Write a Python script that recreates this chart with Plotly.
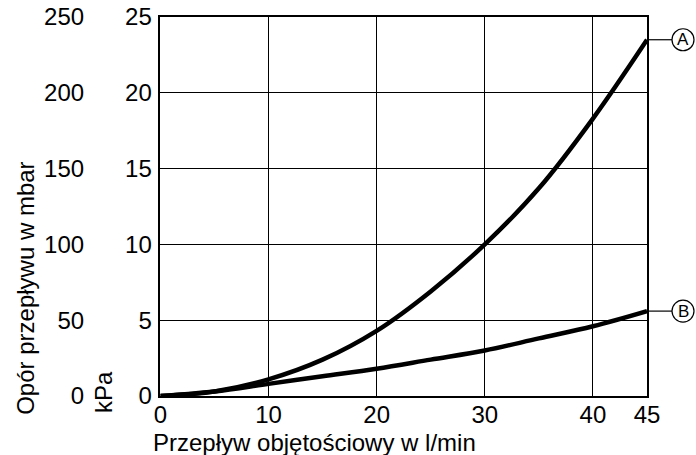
import plotly.graph_objects as go

# Data
flow = [0, 5, 10, 15, 20, 25, 30, 35, 40, 45]
curve_a = [0, 0.3, 1.1, 2.4, 4.3, 6.9, 10.0, 13.7, 18.3, 23.5]
curve_b = [0, 0.3, 0.8, 1.3, 1.8, 2.4, 3.0, 3.8, 4.6, 5.6]
x_ticks = [0, 10, 20, 30, 40, 45]
kpa_ticks = [0, 5, 10, 15, 20, 25]
mbar_ticks = [0, 50, 100, 150, 200, 250]
labels = ["A", "B"]

FONT = "Liberation Sans, Arial, sans-serif"
FS = 24
W, H = 696, 455
PLOT_L, PLOT_R, PLOT_T, PLOT_B = 155, 647, 17, 396
paper_w = PLOT_R            # margin l=0
plot_h = PLOT_B - PLOT_T

fig = go.Figure()
for ys in (curve_a, curve_b):
    fig.add_trace(go.Scatter(x=flow, y=ys, mode="lines",
                             line=dict(color="black", width=4.5, shape="spline"),
                             showlegend=False, hoverinfo="skip", cliponaxis=False))
# invisible trace to activate the mbar axis
fig.add_trace(go.Scatter(x=[0, 45], y=[0, 250], yaxis="y2", mode="none",
                         showlegend=False, hoverinfo="skip"))

shapes = []
annotations = []
for lab, ys in zip(labels, (curve_a, curve_b)):
    ye = ys[-1]
    shapes.append(dict(type="line", xref="x domain", yref="y", xsizemode="pixel", ysizemode="pixel",
                       xanchor=1, yanchor=ye, x0=0, x1=25, y0=0, y1=0,
                       line=dict(color="black", width=1.2)))
    shapes.append(dict(type="circle", xref="x domain", yref="y", xsizemode="pixel", ysizemode="pixel",
                       xanchor=1, yanchor=ye, x0=25, x1=47, y0=-11, y1=11,
                       line=dict(color="black", width=1.2)))
    annotations.append(dict(x=1, y=ye, xref="x domain", yref="y", text=lab, showarrow=False,
                            xanchor="center", yanchor="middle", xshift=36, yshift=0,
                            font=dict(size=17, color="black", family=FONT)))

annotations.append(dict(text="Opór przepływu w mbar", textangle=-90, showarrow=False,
                        xref="paper", yref="paper", x=18 / paper_w,
                        y=(PLOT_B - 288) / plot_h, xanchor="center", yanchor="middle",
                        font=dict(size=FS, color="black", family=FONT)))
annotations.append(dict(text="kPa", textangle=-90, showarrow=False,
                        xref="paper", yref="paper", x=97 / paper_w,
                        y=(PLOT_B - 392) / plot_h, xanchor="center", yanchor="middle",
                        font=dict(size=FS, color="black", family=FONT)))
annotations.append(dict(text="Przepływ objętościowy w l/min", showarrow=False,
                        xref="paper", yref="paper", x=146 / paper_w, y=0,
                        xanchor="left", yanchor="middle", yshift=-46,
                        font=dict(size=FS, color="black", family=FONT)))

fig.update_layout(
    width=W, height=H,
    margin=dict(l=0, r=W - PLOT_R, t=PLOT_T, b=H - PLOT_B),
    paper_bgcolor="white", plot_bgcolor="white",
    font=dict(family=FONT, size=FS, color="black"),
    xaxis=dict(domain=[PLOT_L / paper_w, 1], range=[0, 45], tickvals=x_ticks,
               showgrid=True, gridcolor="black", gridwidth=1.3,
               showline=True, linecolor="black", linewidth=1.5, mirror=True,
               ticks="", ticklabelstandoff=-4, zeroline=False),
    yaxis=dict(range=[0, 25], tickvals=kpa_ticks,
               showgrid=True, gridcolor="black", gridwidth=1.3,
               showline=True, linecolor="black", linewidth=1.5, mirror=True,
               ticks="", ticklabelstandoff=2, zeroline=False),
    yaxis2=dict(range=[0, 250], tickvals=mbar_ticks, overlaying="y", anchor="free",
                position=78 / paper_w, side="left", showgrid=False, showline=False,
                ticks="", zeroline=False, ticklabelstandoff=0),
    shapes=shapes, annotations=annotations,
)

fig.write_html("out.html", config={"displayModeBar": False},
               post_script="document.body.style.margin='0';document.body.style.padding='0';")
